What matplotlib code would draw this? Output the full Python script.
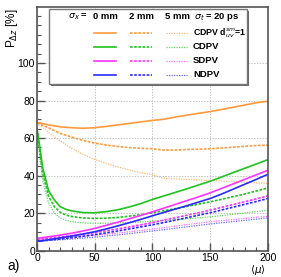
import matplotlib
matplotlib.use('Agg')
import matplotlib.pyplot as plt
from matplotlib.patches import Rectangle

plt.rcParams['font.family'] = ['Liberation Sans', 'DejaVu Sans']
plt.rcParams['mathtext.fontset'] = 'dejavusans'

# pile-up <mu> grids
mu = [0, 10, 20, 30, 40, 50, 60, 70, 80, 90, 100,
      110, 120, 130, 140, 150, 160, 170, 180, 190, 200]
mu_fine = [0, 2, 5, 10, 15, 20, 25, 30, 40, 50, 60, 70, 80, 90, 100,
           110, 120, 130, 140, 150, 160, 170, 180, 190, 200]

# CDPV d_uv^sm = 1 (orange)
cdpv_sm_0 = [68.3, 67.0, 66.0, 65.5, 65.2, 65.5, 66.2, 67.0, 67.8, 68.6, 69.4,
             70.0, 71.2, 72.2, 73.2, 74.1, 75.2, 76.4, 77.6, 78.8, 79.6]
cdpv_sm_2 = [68.0, 65.5, 62.5, 60.5, 58.7, 57.3, 56.3, 55.5, 54.9, 54.5, 54.3,
             53.6, 53.6, 53.9, 54.1, 54.3, 54.7, 55.1, 55.6, 56.0, 56.2]
cdpv_sm_5 = [68.0, 63.0, 58.5, 54.5, 51.3, 48.6, 46.5, 44.6, 43.0, 41.5, 40.4,
             38.6, 38.2, 37.9, 37.7, 37.4, 37.1, 36.8, 36.5, 36.1, 35.8]

# CDPV (green)
cdpv_0 = [65, 57, 44, 32, 27, 23.5, 22, 21.2, 20.3, 20.2, 20.8, 21.8, 23.3, 25.1, 27.3,
          29.2, 31.1, 33.0, 35.0, 37.0, 39.3, 41.6, 43.9, 46.2, 48.5]
cdpv_2 = [65, 55, 41, 29, 23.5, 20.5, 19, 18.2, 17.4, 17.2, 17.3, 17.7, 18.4, 19.2, 20.2,
          21.3, 22.4, 23.6, 24.8, 26.0, 27.4, 28.8, 30.2, 31.8, 33.4]
cdpv_5 = [65, 52, 37, 25.5, 20, 17.5, 16.2, 15.5, 14.8, 14.6, 14.6, 14.8, 15.0, 15.3, 15.7,
          16.1, 16.5, 17.0, 17.5, 18.0, 18.7, 19.4, 20.1, 20.8, 21.6]

# SDPV (magenta)
sdpv_0 = [6.6, 7.4, 8.3, 9.3, 10.5, 11.9, 13.5, 15.2, 17.0, 18.8, 20.7,
          22.7, 24.7, 26.7, 28.7, 30.8, 33.2, 35.6, 38.0, 40.4, 42.8]
sdpv_2 = [6.0, 6.6, 7.3, 8.0, 8.8, 9.6, 10.6, 11.6, 12.7, 13.8, 15.0,
          16.3, 17.6, 18.9, 20.2, 21.6, 23.1, 24.6, 26.1, 27.6, 29.2]
sdpv_5 = [6.0, 6.4, 6.8, 7.2, 7.7, 8.2, 8.8, 9.4, 10.1, 10.8, 11.5,
          12.3, 13.1, 13.9, 14.7, 15.4, 16.0, 16.6, 17.2, 17.8, 18.4]

# NDPV (blue)
ndpv_0 = [5.0, 5.8, 6.8, 7.8, 8.9, 10.1, 11.6, 13.2, 14.9, 16.7, 18.6,
          20.4, 22.2, 24.0, 25.9, 27.8, 30.2, 32.8, 35.4, 38.0, 40.7]
ndpv_2 = [5.0, 5.6, 6.2, 6.9, 7.7, 8.5, 9.5, 10.5, 11.6, 12.7, 13.8,
          15.0, 16.3, 17.6, 18.9, 20.2, 21.7, 23.2, 24.7, 26.2, 27.8]
ndpv_5 = [5.0, 5.4, 5.8, 6.2, 6.7, 7.2, 7.8, 8.4, 9.1, 9.8, 10.5,
          11.2, 12.0, 12.7, 13.5, 14.2, 14.9, 15.5, 16.2, 16.8, 17.5]

orange = '#ff9a3c'
green = '#1fc41f'
magenta = '#ff33ff'
blue = '#2a2aff'

st0 = dict(ls='-', lw=1.2)
st2 = dict(ls=(0, (1.6, 0.9)), lw=1.2)
st5 = dict(ls=(0, (1.0, 1.0)), lw=0.9, alpha=0.7)

fig = plt.figure(figsize=(2.81, 2.77), dpi=100)
ax = fig.add_axes([0.1317, 0.095, 0.8216, 0.881])

series = [
    (mu, [cdpv_sm_0, cdpv_sm_2, cdpv_sm_5], orange),
    (mu_fine, [cdpv_0, cdpv_2, cdpv_5], green),
    (mu, [sdpv_0, sdpv_2, sdpv_5], magenta),
    (mu, [ndpv_0, ndpv_2, ndpv_5], blue),
]
for xs, ys, c in series:
    for y, st in zip(ys[::-1], [st5, st2, st0]):
        ax.plot(xs, y, color=c, **st)

ax.set_xlim(0, 200)
ax.set_ylim(0, 130)
ax.set_xticks([0, 50, 100, 150, 200])
ax.set_xticks(range(0, 201, 10), minor=True)
ax.set_yticks([0, 20, 40, 60, 80, 100])
ax.set_yticks(range(0, 130, 5), minor=True)
ax.tick_params(direction='in', length=6, width=1, color='#555555', labelsize=7.5, pad=1.5)
ax.tick_params(which='minor', direction='in', length=3, width=0.8, color='#555555')
ax.grid(True, which='major', color='#aaaaaa', lw=0.5, ls=(0, (2, 2)))
for s in ax.spines.values():
    s.set_color('#555555')
    s.set_linewidth(1.2)

ax.text(-0.108, 0.913, r'P$_{\Delta z}$ [%]', transform=ax.transAxes,
        rotation=90, ha='center', va='center', fontsize=8.5)
ax.text(0.958, -0.08, r'$\langle\mu\rangle$', transform=ax.transAxes,
        ha='center', va='center', fontsize=7.5)
fig.text(0.05, 0.04, 'a)', ha='center', va='center', fontsize=10)

# legend drawn by hand
def px(xp, yp):
    return ((xp - 37) / 230.7, (250.7 - yp) / 244.0)

x0, y0 = px(49, 84)
x1, y1 = px(247, 9)
sx, sy = 2 / 230.7, 2 / 244.0
ax.add_patch(Rectangle((x0 + sx, y0 - sy), x1 - x0, y1 - y0, transform=ax.transAxes,
                       facecolor='#666666', edgecolor='none', zorder=5))
ax.add_patch(Rectangle((x0, y0), x1 - x0, y1 - y0, transform=ax.transAxes,
                       facecolor='white', edgecolor='#777777', lw=1, zorder=6))

tk = dict(transform=ax.transAxes, fontsize=6.8, fontweight='bold', va='center', zorder=7)
hx, hy = px(78, 17)
ax.text(hx, hy, r'$\sigma_x$ =', ha='center', **tk)
for xp, s in [(105, '0 mm'), (141, '2 mm'), (177, '5 mm')]:
    ax.text(px(xp, 17)[0], hy, s, ha='center', **tk)
ax.text(px(194, 17)[0], hy, r'$\sigma_t$ = 20 ps', ha='left', **tk)

labels = [r'CDPV d$^{sm}_{uv}$=1', 'CDPV', 'SDPV', 'NDPV']
colors = [orange, green, magenta, blue]
rows = [33, 47, 61, 75]
for lab, c, yp in zip(labels, colors, rows):
    yy = px(0, yp)[1]
    for (a, b), st in zip([(94, 116), (130, 152), (166, 187)], [st0, st2, st5]):
        ax.plot([px(a, 0)[0], px(b, 0)[0]], [yy, yy], color=c, transform=ax.transAxes,
                zorder=7, clip_on=False, **st)
    kw = dict(tk)
    if '$' in lab:
        kw['fontsize'] = 6.3
    ax.text(px(193, 0)[0], yy, lab, ha='left', **kw)

fig.savefig('out.png', dpi=100)
